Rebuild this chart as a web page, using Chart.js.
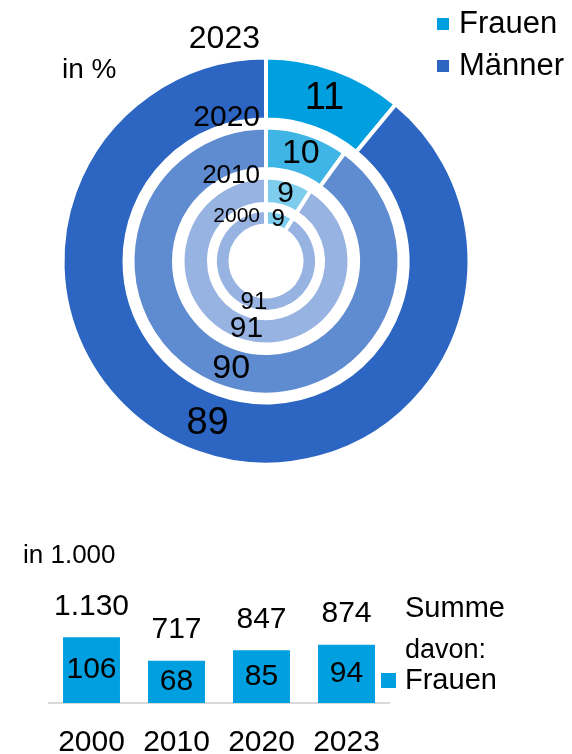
<!DOCTYPE html>
<html>
<head>
<meta charset="utf-8">
<script src="https://cdn.jsdelivr.net/npm/chart.js@4.4.1/dist/chart.umd.min.js"></script>
<style>
  html, body { margin: 0; padding: 0; background: #fff; overflow: hidden; }
  #wrap { position: relative; width: 572px; height: 754px; overflow: hidden; }
  canvas { position: absolute; left: 0; }
  #ringe { top: 0; }
  #balken { top: 490px; }
</style>
</head>
<body>
<div id="wrap">
  <canvas id="ringe" width="572" height="490"></canvas>
  <canvas id="balken" width="572" height="293"></canvas>
</div>
<script>
// Anteile in % (aussen -> innen)
var ringJahre = ['2023', '2020', '2010', '2000'];
var frauenProzent = [11, 10, 9, 9];
var maennerProzent = [89, 90, 91, 91];

// absolute Zahlen in 1.000
var balkenJahre = ['2000', '2010', '2020', '2023'];
var summe = [1130, 717, 847, 874];
var frauenAbsolut = [106, 68, 85, 94];

var frauenFarben = ['#009FDF', '#3FB5E5', '#7FCDEC', '#7FCDEC'];
var maennerFarben = ['#2D66C2', '#5F8CD1', '#97B3E1', '#97B3E1'];
var ringDicke = [62, 41.5, 26.5, 15.5];
var ringAbstand = [8, 8.5, 6];
var wertSchrift = [38, 34, 30, 24];
var jahrSchrift = [32, 30, 26, 21];
var jahrVersatz = [-20, -12, -4, 4];

var schrift = 'Liberation Sans, Arial, sans-serif';
Chart.defaults.font.family = schrift;
Chart.defaults.color = '#000';

function text(ctx, t, x, y, size, align) {
    ctx.save();
    ctx.font = size + 'px ' + schrift;
    ctx.fillStyle = '#000';
    ctx.textAlign = align || 'center';
    ctx.textBaseline = 'middle';
    ctx.fillText(t, x, y);
    ctx.restore();
}

// Datensaetze: Ring, Abstand, Ring, ...
var datasets = [];
for (var i = 0; i < ringJahre.length; i++) {
    datasets.push({
        label: ringJahre[i],
        data: [frauenProzent[i], maennerProzent[i]],
        backgroundColor: [frauenFarben[i], maennerFarben[i]],
        borderColor: '#fff',
        borderWidth: 4,
        weight: ringDicke[i]
    });
    if (i < ringAbstand.length) {
        datasets.push({
            label: '',
            luecke: true,
            data: [1],
            backgroundColor: 'rgba(0,0,0,0)',
            borderWidth: 0,
            weight: ringAbstand[i]
        });
    }
}

var ringBeschriftung = {
    id: 'ringBeschriftung',
    afterDatasetsDraw: function (chart) {
        var ctx = chart.ctx;
        var r = 0;
        chart.data.datasets.forEach(function (ds, di) {
            if (ds.luecke) return;
            var meta = chart.getDatasetMeta(di);
            meta.data.forEach(function (arc, k) {
                var p = arc.getCenterPoint();
                text(ctx, String(ds.data[k]), p.x, p.y, wertSchrift[r]);
            });
            var a = meta.data[0];
            text(ctx, ds.label, a.x - 6, a.y - a.outerRadius + 2 + jahrVersatz[r], jahrSchrift[r], 'right');
            r++;
        });
        text(ctx, 'in %', 62, 70, 28, 'left');
        // Legende
        ctx.fillStyle = frauenFarben[0];
        ctx.fillRect(437, 18, 12, 12);
        ctx.fillStyle = maennerFarben[0];
        ctx.fillRect(437, 60, 12, 12);
        text(ctx, 'Frauen', 459, 24, 31, 'left');
        text(ctx, 'Männer', 459, 66, 31, 'left');
    }
};

new Chart(document.getElementById('ringe'), {
    type: 'doughnut',
    data: { labels: ['Frauen', 'Männer'], datasets: datasets },
    options: {
        responsive: false,
        animation: false,
        radius: 203.5,
        cutout: (35.5 / 203.5 * 100) + '%',
        layout: { padding: { left: 0, right: 40, top: 32, bottom: 0 } },
        plugins: { legend: { display: false }, tooltip: { enabled: false } }
    },
    plugins: [ringBeschriftung]
});

var balkenBeschriftung = {
    id: 'balkenBeschriftung',
    afterDatasetsDraw: function (chart) {
        var ctx = chart.ctx;
        var meta = chart.getDatasetMeta(0);
        meta.data.forEach(function (bar, k) {
            text(ctx, summe[k].toLocaleString('de-DE'), bar.x, bar.y - 31, 30);
            text(ctx, String(frauenAbsolut[k]), bar.x, (bar.y + bar.base) / 2, 30);
        });
        text(ctx, 'in 1.000', 23, 556 - 490, 26, 'left');
        text(ctx, 'Summe', 405, 119, 29, 'left');
        text(ctx, 'davon:', 405, 161, 27, 'left');
        ctx.fillStyle = frauenFarben[0];
        ctx.fillRect(381, 183, 15, 15);
        text(ctx, 'Frauen', 405, 191, 29, 'left');
    }
};

new Chart(document.getElementById('balken'), {
    type: 'bar',
    data: {
        labels: balkenJahre,
        datasets: [{
            label: 'Frauen',
            data: frauenAbsolut,
            backgroundColor: frauenFarben[0],
            categoryPercentage: 1,
            barPercentage: 0.67
        }]
    },
    options: {
        responsive: false,
        animation: false,
        layout: { padding: { left: 49, right: 183, top: 89, bottom: 0 } },
        scales: {
            y: { display: false, min: 0, max: 200 },
            x: {
                grid: { display: false, drawTicks: false },
                border: { display: true, color: '#D9D9D9', width: 2 },
                ticks: { font: { size: 30 }, color: '#000', padding: 22 }
            }
        },
        plugins: { legend: { display: false }, tooltip: { enabled: false } }
    },
    plugins: [balkenBeschriftung]
});
</script>
</body>
</html>
